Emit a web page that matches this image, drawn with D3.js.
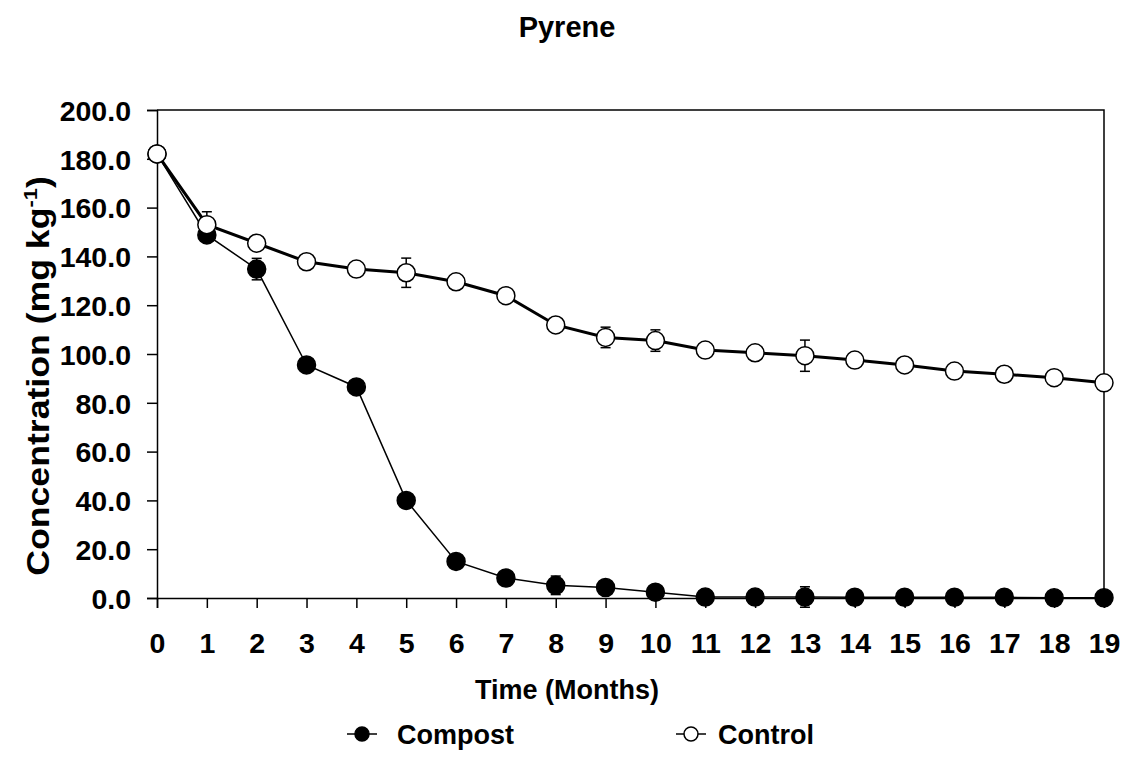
<!DOCTYPE html>
<html>
<head>
<meta charset="utf-8">
<script src="https://cdn.jsdelivr.net/npm/d3@7"></script>
<style>
  body { margin: 0; background: #fff; }
  text { font-family: "Liberation Sans", Arial, sans-serif; font-weight: bold; fill: #000; }
</style>
</head>
<body>
<script>
// chart data
var months = d3.range(0, 20);
var compost = [182, 148.8, 134.8, 95.5, 86.5, 40, 15, 8.2, 5.2, 4.3, 2.4, 0.4, 0.4, 0.4, 0.3, 0.3, 0.3, 0.3, 0.1, 0.1];
var compostErr = [0, 1, 4.4, 0, 0, 0, 0, 0, 3.8, 0, 0, 0, 0, 4.2, 0, 0, 0, 0, 0, 0];
var control = [182, 153, 145.4, 137.8, 134.8, 133.3, 129.6, 123.9, 111.9, 106.8, 105.5, 101.6, 100.5, 99.3, 97.5, 95.5, 93, 91.7, 90.3, 88.2];
var controlErr = [0, 5.3, 0, 0, 0, 6, 0, 0, 0, 4.2, 4.4, 0, 0, 6.4, 0, 0, 0, 0, 0, 0];
var yTicks = [0, 20, 40, 60, 80, 100, 120, 140, 160, 180, 200];

var w = 1125, h = 757;
var pLeft = 157, pRight = 1104, pTop = 110, pBottom = 598;

var svg = d3.select("body").append("svg")
    .attr("width", w)
    .attr("height", h);

var x = d3.scaleLinear().domain([0, 19]).range([pLeft, pRight]);
var y = d3.scaleLinear().domain([0, 200]).range([pBottom, pTop]);

// title
svg.append("text")
    .attr("x", 567).attr("y", 37)
    .attr("text-anchor", "middle")
    .style("font-size", "29px")
    .text("Pyrene");

// frame top + right
svg.append("path")
    .attr("d", "M" + pLeft + "," + pTop + "H" + pRight + "V" + pBottom)
    .attr("fill", "none")
    .attr("stroke", "#000")
    .attr("stroke-width", 1.5);

// axes
var yAxis = d3.axisLeft(y).tickValues(yTicks).tickSize(10).tickFormat(d3.format(".1f"));
var gy = svg.append("g")
    .attr("transform", "translate(" + pLeft + ",0)")
    .call(yAxis);
gy.selectAll("text").style("font-size", "28.5px").attr("x", -26).attr("dy", "0.36em");

var xAxis = d3.axisBottom(x).tickValues(months).tickSize(10).tickFormat(d3.format("d"));
var gx = svg.append("g")
    .attr("transform", "translate(0," + pBottom + ")")
    .call(xAxis);
gx.selectAll("text").style("font-size", "28.5px").attr("y", 55).attr("dy", "0");

svg.selectAll(".domain, .tick line").attr("stroke", "#000").attr("stroke-width", 1.5);
svg.selectAll(".tick text").attr("fill", "#000");

// axis titles
svg.append("text")
    .attr("x", 567).attr("y", 699)
    .attr("text-anchor", "middle")
    .style("font-size", "27px")
    .text("Time (Months)");

var yl = svg.append("text")
    .attr("transform", "translate(49,376) rotate(-90) scale(1.15,1)")
    .attr("text-anchor", "middle")
    .style("font-size", "31px");
yl.append("tspan").text("Concentration (mg kg");
yl.append("tspan").attr("dy", -12).style("font-size", "19px").text("-1");
yl.append("tspan").attr("dy", 12).text(")");

// series
var series = [
    { name: "Compost", vals: compost, err: compostErr, fill: "#000", lw: 1.5 },
    { name: "Control", vals: control, err: controlErr, fill: "#fff", lw: 3 }
];

var line = d3.line()
    .x(function(d, i) { return x(months[i]); })
    .y(function(d) { return y(d); });

series.forEach(function(s) {
    var g = svg.append("g");
    g.append("path")
        .attr("d", line(s.vals))
        .attr("fill", "none")
        .attr("stroke", "#000")
        .attr("stroke-width", s.lw);
    // error bars
    var eb = g.selectAll(".err")
        .data(s.vals.map(function(v, i) { return { v: v, e: s.err[i], m: months[i] }; })
            .filter(function(d) { return d.e > 0; }))
        .enter().append("g");
    eb.append("line")
        .attr("x1", function(d) { return x(d.m); })
        .attr("x2", function(d) { return x(d.m); })
        .attr("y1", function(d) { return y(d.v + d.e); })
        .attr("y2", function(d) { return y(d.v - d.e); })
        .attr("stroke", "#000").attr("stroke-width", 1.5);
    [1, -1].forEach(function(sg) {
        eb.append("line")
            .attr("x1", function(d) { return x(d.m) - 5; })
            .attr("x2", function(d) { return x(d.m) + 5; })
            .attr("y1", function(d) { return y(d.v + sg * d.e); })
            .attr("y2", function(d) { return y(d.v + sg * d.e); })
            .attr("stroke", "#000").attr("stroke-width", 1.5);
    });
    g.selectAll("circle")
        .data(s.vals)
        .enter().append("circle")
        .attr("cx", function(d, i) { return x(months[i]); })
        .attr("cy", function(d) { return y(d); })
        .attr("r", 9)
        .attr("fill", s.fill)
        .attr("stroke", "#000")
        .attr("stroke-width", 1.5);
});

// legend
var legend = [
    { name: "Compost", fill: "#000", cx: 362, tx: 397 },
    { name: "Control", fill: "#fff", cx: 691, tx: 718 }
];
var lg = svg.selectAll(".legend")
    .data(legend)
    .enter().append("g");
lg.append("line")
    .attr("x1", function(d) { return d.cx - 15; })
    .attr("x2", function(d) { return d.cx + 15; })
    .attr("y1", 734).attr("y2", 734)
    .attr("stroke", "#000").attr("stroke-width", 1.5);
lg.append("circle")
    .attr("cx", function(d) { return d.cx; })
    .attr("cy", 734)
    .attr("r", 7)
    .attr("fill", function(d) { return d.fill; })
    .attr("stroke", "#000").attr("stroke-width", 1.5);
lg.append("text")
    .attr("x", function(d) { return d.tx; })
    .attr("y", 744)
    .style("font-size", "27px")
    .text(function(d) { return d.name; });
</script>
</body>
</html>
